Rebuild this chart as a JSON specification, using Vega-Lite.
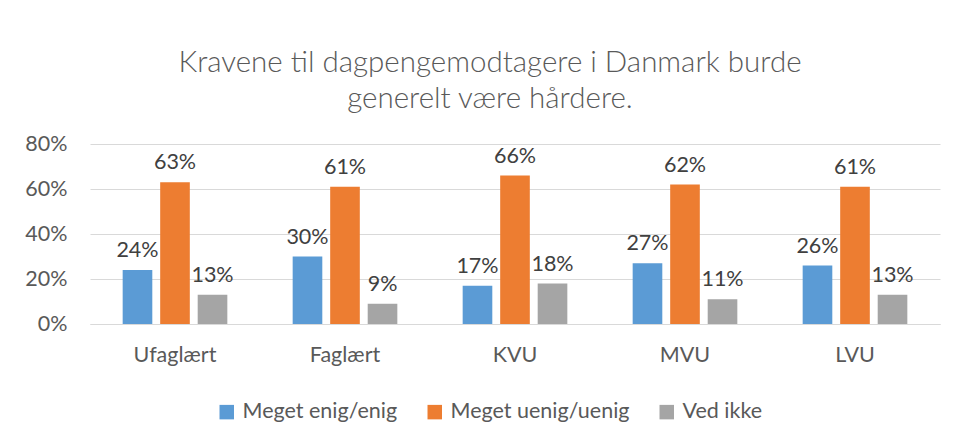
{
  "$schema": "https://vega.github.io/schema/vega-lite/v6.json",
  "autosize": "none",
  "width": 850,
  "height": 180,
  "padding": {"left": 90, "top": 144, "right": 17, "bottom": 113},
  "background": "white",
  "title": {
    "text": ["Kravene til dagpengemodtagere i Danmark burde", "generelt være hårdere."],
    "anchor": "middle",
    "frame": "group",
    "font": "Lato",
    "fontSize": 29.5,
    "fontWeight": 300,
    "color": "#595959",
    "lineHeight": 36,
    "offset": 19,
    "dx": -25
  },
  "data": {
    "values": [
      {"uddannelse": "Ufaglært", "svar": "Meget enig/enig", "andel": 0.24},
      {"uddannelse": "Ufaglært", "svar": "Meget uenig/uenig", "andel": 0.63},
      {"uddannelse": "Ufaglært", "svar": "Ved ikke", "andel": 0.13},
      {"uddannelse": "Faglært", "svar": "Meget enig/enig", "andel": 0.30},
      {"uddannelse": "Faglært", "svar": "Meget uenig/uenig", "andel": 0.61},
      {"uddannelse": "Faglært", "svar": "Ved ikke", "andel": 0.09},
      {"uddannelse": "KVU", "svar": "Meget enig/enig", "andel": 0.17},
      {"uddannelse": "KVU", "svar": "Meget uenig/uenig", "andel": 0.66},
      {"uddannelse": "KVU", "svar": "Ved ikke", "andel": 0.18},
      {"uddannelse": "MVU", "svar": "Meget enig/enig", "andel": 0.27},
      {"uddannelse": "MVU", "svar": "Meget uenig/uenig", "andel": 0.62},
      {"uddannelse": "MVU", "svar": "Ved ikke", "andel": 0.11},
      {"uddannelse": "LVU", "svar": "Meget enig/enig", "andel": 0.26},
      {"uddannelse": "LVU", "svar": "Meget uenig/uenig", "andel": 0.61},
      {"uddannelse": "LVU", "svar": "Ved ikke", "andel": 0.13}
    ]
  },
  "encoding": {
    "x": {
      "field": "uddannelse",
      "type": "nominal",
      "sort": ["Ufaglært", "Faglært", "KVU", "MVU", "LVU"],
      "scale": {"paddingInner": 0.338, "paddingOuter": 0.169},
      "axis": {
        "title": null,
        "labelAngle": 0,
        "ticks": false,
        "domain": true,
        "domainColor": "#D9D9D9",
        "domainWidth": 1,
        "labelFont": "Lato",
        "labelFontSize": 21.5,
        "labelColor": "#595959",
        "labelPadding": 20
      }
    },
    "xOffset": {
      "field": "svar",
      "type": "nominal",
      "sort": ["Meget enig/enig", "Meget uenig/uenig", "Ved ikke"],
      "scale": {"paddingInner": 0.21, "paddingOuter": 0.105}
    },
    "y": {
      "field": "andel",
      "type": "quantitative",
      "scale": {"domain": [0, 0.8]},
      "axis": {
        "title": null,
        "format": ".0%",
        "values": [0, 0.2, 0.4, 0.6, 0.8],
        "labelOverlap": false,
        "ticks": false,
        "domain": false,
        "grid": true,
        "gridColor": "#D9D9D9",
        "gridWidth": 1,
        "labelFont": "Lato",
        "labelFontSize": 21.5,
        "labelColor": "#595959",
        "labelPadding": 23
      }
    },
    "color": {
      "field": "svar",
      "type": "nominal",
      "sort": ["Meget enig/enig", "Meget uenig/uenig", "Ved ikke"],
      "scale": {"range": ["#5B9BD5", "#ED7D31", "#A5A5A5"]},
      "legend": {
        "title": null,
        "orient": "none",
        "legendX": 126,
        "legendY": 257,
        "direction": "horizontal",
        "symbolType": "square",
        "symbolSize": 210,
        "symbolStrokeWidth": 0,
        "labelFont": "Lato",
        "labelFontSize": 21.5,
        "labelColor": "#595959",
        "columnPadding": 26,
        "labelOffset": 5,
        "labelLimit": 400
      }
    }
  },
  "layer": [
    {"mark": {"type": "bar"}},
    {
      "mark": {"type": "text", "baseline": "bottom", "dy": -8, "font": "Lato", "fontSize": 21.5, "color": "#404040"},
      "encoding": {
        "text": {"field": "andel", "type": "quantitative", "format": ".0%"},
        "color": {"value": "#404040"}
      }
    }
  ],
  "config": {
    "view": {"stroke": null}
  }
}
